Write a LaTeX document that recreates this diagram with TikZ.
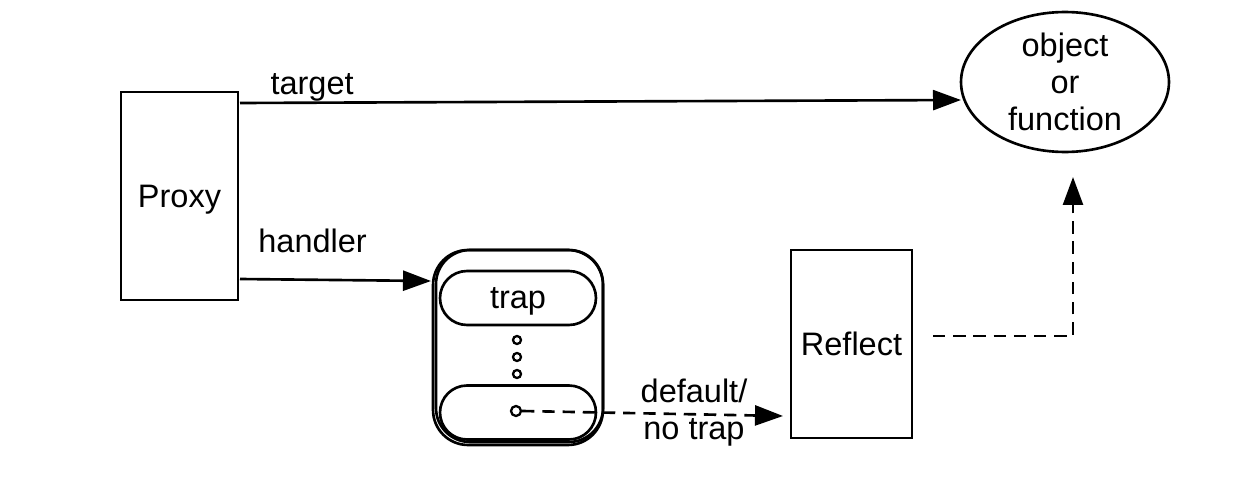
\documentclass[tikz,border=0pt]{standalone}
\usepackage{fontspec}
\setmainfont{Liberation Sans}
\usetikzlibrary{arrows.meta,shapes.geometric}
\begin{document}
\begin{tikzpicture}[x=0.02cm,y=-0.02cm,line width=1.5pt,
  font=\fontsize{18.5}{21}\selectfont,
  box/.style={draw,rectangle,inner sep=0pt,text depth=0pt},
  pill/.style={draw,rectangle,rounded corners=0.54cm,minimum width=3.12cm,minimum height=1.08cm,inner sep=0pt,text depth=0pt},
  dot/.style={draw,circle,line width=1.3pt,inner sep=0pt,minimum size=0.16cm},
  tip/.style={-{Triangle[length=0.56cm,width=0.4cm]}},
  dashline/.style={dash pattern=on 7pt off 4.5pt}]
\useasboundingbox (0,0) rectangle (1252,490);
\node[box,minimum width=2.34cm,minimum height=4.16cm] (proxy) at (179.5,196) {Proxy};
\node[draw,ellipse,minimum width=4.16cm,minimum height=2.8cm,align=center,inner sep=0pt] (obj) at (1065,82) {object\\or\\function};
% handler object, drawn twice a little apart
\node[draw,rectangle,rounded corners=0.7cm,minimum width=3.4cm,minimum height=3.9cm] (handler) at (518,347.5) {};
\node[draw,rectangle,rounded corners=0.68cm,minimum width=3.34cm,minimum height=3.84cm] (handler2) at (519.5,346) {};
\node[pill] (trap) at (518,298) {trap};
\node[pill] (notrap) at (518,412.5) {};
\node[dot] (d1) at (517,340) {};
\node[dot] (d2) at (517,357) {};
\node[dot] (d3) at (517,374) {};
\node[dot,minimum size=0.2cm] (fallback) at (516,411) {};
\node[box,minimum width=2.42cm,minimum height=3.76cm] (reflect) at (851.5,344) {Reflect};
% connectors
\coordinate (tstart) at (240,103);
\coordinate (tend) at (961,100);
\draw[tip] (tstart) -- (tend) node[pos=0.1,above=-3pt] {target};
\coordinate (hstart) at (240,279);
\coordinate (hend) at (431,281);
\draw[tip] (hstart) -- (hend) node[pos=0.38,above=11pt] {handler};
\coordinate (dend) at (783,416);
\draw[tip,dashline] (fallback.east) -- (dend);
\node (lbl) at (694,413) [align=center] {default/\\no trap};
\coordinate (rstart) at (933,336);
\coordinate (corner) at (1073,336);
\coordinate (oend) at (1073,177);
\draw[tip,dashline] (rstart) -- (corner) -- (oend);
\end{tikzpicture}
\end{document}
